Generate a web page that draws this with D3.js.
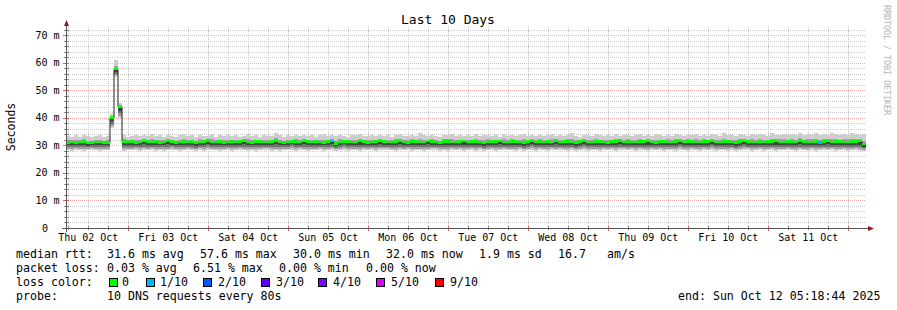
<!doctype html>
<meta charset="utf-8">
<title>Last 10 Days</title>
<script src="https://cdn.jsdelivr.net/npm/d3@7"></script>
<style>
body { margin:0; background:#fff; }
text { font-family:"DejaVu Sans Mono", monospace; fill:#000; }
</style>
<body>
<svg id="chart" width="897" height="310"></svg>
<script>

// time range of the graph (rrd end time, 10 days back), one step = 1.2 h
var startTime = new Date(Date.UTC(2025, 9, 2, 5, 18, 44));
var endTime   = new Date(Date.UTC(2025, 9, 12, 5, 18, 44));
var stepSec = 4320;

// median rtt per step (ms)
var medianRtt = [
  31.0,31.2,30.9,31.1,31.3,30.8,31.0,31.2,31.1,30.9, 31.0, 40.0,57.6,44.0, 31.4,31.1,31.3,31.0,31.2,31.5,
  31.3,31.1,31.4,31.0,31.2,31.5,31.3,30.9,31.2,31.4,31.1,31.3,31.0,31.2,31.4,31.6,31.2,31.1,31.3,31.0,
  31.2,31.4,31.1,31.3,31.5,31.2,31.0,31.3,31.4,31.1,31.2,31.3,31.5,31.2,31.0,31.1,31.4,31.3,31.2,31.5,
  31.3,31.1,31.4,31.2,31.0,31.3,31.5,30.6,31.2,31.4,31.3,31.1,31.2,31.5,31.3,31.0,31.2,31.4,31.6,31.3,
  31.2,31.1,31.3,31.5,31.2,31.0,31.4,31.3,31.1,31.2,31.5,31.3,31.2,31.0,31.3,31.4,31.2,31.1,31.3,31.5,
  31.2,31.4,31.3,31.1,30.8,31.2,31.4,31.3,31.5,31.2,31.1,31.3,31.4,31.2,31.0,31.3,31.5,31.2,31.4,31.1,
  31.3,31.2,31.5,31.1,31.3,31.4,31.2,31.0,31.3,31.5,31.2,31.1,31.4,31.3,31.2,31.0,31.3,31.4,31.6,31.2,
  31.3,31.1,31.2,31.4,31.3,31.5,31.2,31.0,31.3,31.4,31.2,31.1,31.3,31.5,31.2,31.4,31.3,31.1,31.2,31.4,
  31.3,31.5,31.2,31.1,31.4,31.3,31.2,31.0,31.3,31.5,31.4,31.2,31.1,31.3,31.2,31.4,31.3,31.5,31.2,31.1,
  31.3,31.4,31.2,31.5,31.3,31.1,31.2,31.4,31.0,31.3,31.5,31.2,31.4,31.3,31.1,31.2,31.4,31.3,31.5,30.4
];

// fastest ping per step (ms)
var pingLow = [
  28.3,28.1,28.4,28.2,28.0,28.3,28.5,28.2,28.1,28.3, 28.2, 36.5,55.0,40.0, 28.0,28.3,28.2,28.4,28.1,28.3,
  28.2,28.4,28.1,28.3,28.0,28.2,28.5,28.3,28.1,28.2,28.4,28.2,28.0,28.3,28.1,28.4,28.2,28.3,28.1,28.2,
  28.3,28.1,28.2,28.4,28.2,28.0,28.3,28.1,28.2,28.4,28.3,28.1,28.2,28.0,28.3,28.2,28.4,28.1,28.3,28.2,
  28.1,28.3,28.2,28.4,28.1,28.2,28.3,28.0,28.2,28.4,28.1,28.3,28.2,28.1,28.4,28.2,28.3,28.0,28.2,28.3,
  28.4,28.2,28.1,28.3,28.2,28.4,28.0,28.2,28.3,28.1,28.2,28.4,28.3,28.1,28.2,28.0,28.3,28.2,28.4,28.1,
  28.2,28.3,28.1,28.4,28.0,28.2,28.3,28.1,28.2,28.4,28.3,28.2,28.1,28.3,28.0,28.2,28.4,28.1,28.3,28.2,
  28.1,28.3,28.2,28.4,28.2,28.1,28.3,28.0,28.2,28.4,28.1,28.3,28.2,28.1,28.4,28.2,28.3,28.1,28.2,28.3,
  28.2,28.4,28.1,28.3,28.2,28.0,28.3,28.2,28.4,28.1,28.2,28.3,28.1,28.4,28.2,28.0,28.3,28.2,28.1,28.3,
  28.2,28.4,28.1,28.3,28.2,28.1,28.3,28.0,28.2,28.4,28.3,28.1,28.2,28.4,28.1,28.2,28.3,28.0,28.2,28.3,
  28.4,28.2,28.1,28.3,28.2,28.0,28.3,28.1,28.2,28.4,28.2,28.3,28.1,28.2,28.4,28.0,28.2,28.3,28.1,28.0
];

// slowest ping per step (ms)
var pingHigh = [
  33.4,33.1,33.6,33.2,33.8,33.3,33.0,33.5,33.9,33.2, 33.4, 41.5,61.0,45.5, 33.6,33.2,33.5,33.9,33.3,33.7,
  33.4,34.2,33.3,33.6,33.1,33.8,33.5,33.2,33.7,34.0,33.3,33.6,33.2,33.9,33.4,33.5,34.3,33.2,33.6,33.4,
  33.7,33.3,33.9,33.2,33.5,34.1,33.4,33.6,33.2,33.8,33.5,33.3,34.4,33.6,33.2,33.7,33.4,33.9,33.3,33.6,
  33.5,33.8,33.2,33.6,34.0,33.4,33.7,33.3,33.9,33.5,33.2,33.8,33.6,34.2,33.4,33.3,33.7,33.5,33.9,33.4,
  33.6,33.2,33.8,34.1,33.5,33.3,33.7,33.4,34.4,33.6,33.3,33.8,33.5,33.2,33.9,33.6,34.0,33.4,33.7,33.3,
  33.8,33.5,34.2,33.3,33.6,33.9,33.4,33.7,33.2,34.0,33.5,33.8,33.3,33.6,34.3,33.4,33.7,33.5,33.9,33.3,
  33.6,34.0,33.4,33.8,33.3,33.7,34.4,33.5,33.2,33.9,33.6,33.4,34.1,33.7,33.3,33.8,33.5,34.0,33.4,33.6,
  33.9,33.3,33.7,34.2,33.5,33.8,33.4,34.0,33.6,33.3,33.9,33.5,34.3,33.7,33.4,33.8,33.6,34.1,33.5,33.9,
  33.4,34.0,33.7,33.5,34.4,33.6,33.8,33.3,34.1,33.7,33.5,34.0,33.6,34.3,33.8,33.5,34.5,33.7,33.9,34.2,
  33.6,34.0,33.8,34.5,33.7,34.1,33.9,34.4,33.6,34.2,33.8,34.6,34.0,33.7,34.3,33.9,34.5,34.1,33.8,34.2
];

// steps with lost packets (index, lost of 10)
var lossSteps  = [66, 188];
var lossCounts = [1, 1];

var yTicks = [0, 10, 20, 30, 40, 50, 60, 70];

var lossLabels = ["0", "1/10", "2/10", "3/10", "4/10", "5/10", "9/10"];
var lossLevels = [0, 1, 2, 3, 4, 5, 9];
var lossColors = ["#00ff00", "#00b8ff", "#0059ff", "#5e00ff", "#7e00ff", "#dd00ff", "#ff0000"];

var rttStats  = ["31.6 ms avg", "57.6 ms max", "30.0 ms min", "32.0 ms now", "1.9 ms sd", "16.7", "am/s"];
var lossStats = ["0.03 % avg", "6.51 % max", "0.00 % min", "0.00 % now"];

var svg = d3.select("#chart");

var x = d3.scaleUtc().domain([startTime, endTime]).range([66, 866]);
var y = d3.scaleLinear().domain([0, 73]).range([228, 27]);

var plotTop = 27, plotBottom = 228, plotLeft = 66, plotRight = 866;

// ---- grid ----
var grid = svg.append("g");
var minorY = d3.range(2, 73, 2).filter(function(v) { return v % 10 != 0; });
var majorY = d3.range(10, 73, 10);

grid.selectAll("line.hmin").data(minorY).enter().append("line")
  .attr("x1", plotLeft).attr("x2", plotRight)
  .attr("y1", function(d) { return Math.round(y(d)) + 0.5; })
  .attr("y2", function(d) { return Math.round(y(d)) + 0.5; })
  .attr("stroke", "#cccccc").attr("stroke-dasharray", "1,1");

var hours6 = d3.utcHour.every(6).range(startTime, endTime).filter(function(d) { return d.getUTCHours() != 0; });
var days = d3.utcDay.range(startTime, endTime);

grid.selectAll("line.vmin").data(hours6).enter().append("line")
  .attr("y1", plotTop).attr("y2", plotBottom)
  .attr("x1", function(d) { return Math.round(x(d)) + 0.5; })
  .attr("x2", function(d) { return Math.round(x(d)) + 0.5; })
  .attr("stroke", "#cccccc").attr("stroke-dasharray", "1,1");

grid.selectAll("line.hmaj").data(majorY).enter().append("line")
  .attr("x1", plotLeft).attr("x2", plotRight)
  .attr("y1", function(d) { return Math.round(y(d)) + 0.5; })
  .attr("y2", function(d) { return Math.round(y(d)) + 0.5; })
  .attr("stroke", "#f5abab").attr("stroke-dasharray", "1,1");

grid.selectAll("line.vmaj").data(days).enter().append("line")
  .attr("y1", plotTop).attr("y2", plotBottom)
  .attr("x1", function(d) { return Math.round(x(d)) + 0.5; })
  .attr("x2", function(d) { return Math.round(x(d)) + 0.5; })
  .attr("stroke", "#f5abab").attr("stroke-dasharray", "1,1");

// ---- smoke ----
var steps = d3.range(medianRtt.length);
function stepStart(i) { return x(new Date(startTime.getTime() + i * stepSec * 1000)); }

// layers: [fraction below median, fraction above median, colour]
var smokeLayers = [
  [1.0, 1.0, "#cdcdcd"],
  [0.8, 0.35, "#a0a0a0"],
  [0.6, 0.15, "#727272"],
  [0.35, 0.0, "#444444"]
];

var smoke = svg.append("g");
smokeLayers.forEach(function(L) {
  smoke.append("g").selectAll("rect").data(steps).enter().append("rect")
    .attr("x", function(i) { return stepStart(i); })
    .attr("width", function(i) { return stepStart(i + 1) - stepStart(i); })
    .attr("y", function(i) { return y(medianRtt[i] + (pingHigh[i] - medianRtt[i]) * L[1]); })
    .attr("height", function(i) {
      var top = medianRtt[i] + (pingHigh[i] - medianRtt[i]) * L[1];
      var bot = medianRtt[i] - (medianRtt[i] - pingLow[i]) * L[0];
      return y(bot) - y(top);
    })
    .attr("fill", L[2])
    .attr("shape-rendering", "crispEdges");
});

// ---- median ----
var medPts = steps.map(function(i) { return [stepStart(i), y(medianRtt[i])]; });
medPts.push([stepStart(steps.length), y(medianRtt[steps.length - 1])]);
svg.append("path")
  .attr("d", d3.line().curve(d3.curveStepAfter)(medPts))
  .attr("fill", "none").attr("stroke", "#202020").attr("stroke-width", 1);

function lossColor(i) {
  var k = lossSteps.indexOf(i);
  var c = k < 0 ? 0 : lossCounts[k];
  var idx = lossLevels.indexOf(c);
  return lossColors[idx < 0 ? 0 : idx];
}

svg.append("g").selectAll("rect").data(steps).enter().append("rect")
  .attr("x", function(i) { return stepStart(i); })
  .attr("width", function(i) { return stepStart(i + 1) - stepStart(i); })
  .attr("y", function(i) { return y(medianRtt[i]) - 1.5; })
  .attr("height", 2.5)
  .attr("fill", lossColor)
  .attr("shape-rendering", "crispEdges");

// ---- axes ----
var ax = svg.append("g");
ax.selectAll("line.ytk").data(d3.range(0, 73, 2)).enter().append("line")
  .attr("x1", function(d) { return d % 10 == 0 ? 63 : 64; }).attr("x2", 69)
  .attr("y1", function(d) { return Math.round(y(d)) + 0.5; })
  .attr("y2", function(d) { return Math.round(y(d)) + 0.5; })
  .attr("stroke", function(d) { return d % 10 == 0 ? "#e06060" : "#888"; });

ax.selectAll("line.xtk").data(hours6.concat(days)).enter().append("line")
  .attr("y1", 226).attr("y2", function(d) { return d.getUTCHours() == 0 ? 231 : 230; })
  .attr("x1", function(d) { return Math.round(x(d)) + 0.5; })
  .attr("x2", function(d) { return Math.round(x(d)) + 0.5; })
  .attr("stroke", function(d) { return d.getUTCHours() == 0 ? "#e06060" : "#888"; });

ax.append("line").attr("x1", 66.5).attr("x2", 66.5).attr("y1", 232).attr("y2", 24)
  .attr("stroke", "#555");
ax.append("line").attr("x1", 62).attr("x2", 870).attr("y1", 228.5).attr("y2", 228.5)
  .attr("stroke", "#555");
ax.append("path").attr("d", "M64,26 L69,26 L66.5,20 Z").attr("fill", "#8b1a1a");
ax.append("path").attr("d", "M868,226 L868,231 L874,228.5 Z").attr("fill", "#8b1a1a");

svg.append("g").selectAll("text").data(yTicks).enter().append("text")
  .attr("x", function(d) { return d == 0 ? 48 : 59.5; })
  .attr("y", function(d) { return y(d) + 3.5; })
  .attr("text-anchor", "end")
  .style("font-size", "10px")
  .text(function(d) { return d == 0 ? "0" : d + " m"; });

var noons = days.map(function(d) { return d3.utcHour.offset(d, -12); });
svg.append("g").selectAll("text").data(noons).enter().append("text")
  .attr("x", function(d) { return x(d); })
  .attr("y", 241)
  .attr("text-anchor", "middle")
  .style("font-size", "10px")
  .text(d3.utcFormat("%a %d %b"));

// ---- titles ----
svg.append("text").attr("x", 448).attr("y", 24).attr("text-anchor", "middle")
  .style("font-size", "13px").text("Last 10 Days");
svg.append("text").attr("transform", "translate(15,127) rotate(-90)").attr("text-anchor", "middle")
  .style("font-size", "11.5px").text("Seconds");
svg.append("text").attr("transform", "translate(884,5) rotate(90)")
  .attr("textLength", 110).attr("lengthAdjust", "spacing")
  .style("font-size", "8.5px").style("fill", "#b4b4b4").text("RRDTOOL / TOBI OETIKER");

// ---- legend ----
var lg = svg.append("g").style("font-size", "11.6px");
function lt(xp, yp, s) { lg.append("text").attr("x", xp).attr("y", yp).text(s); }

lt(16, 258, "median rtt:");
[107, 200, 293, 386, 479, 558, 607].forEach(function(xp, i) { lt(xp, 258, rttStats[i]); });

lt(16, 272, "packet loss:");
[107, 193, 279, 366].forEach(function(xp, i) { lt(xp, 272, lossStats[i]); });

lt(16, 286, "loss color:");
var boxX = [109, 146, 203, 261, 318, 376, 435];
var labX = [122, 160, 218, 276, 333, 391, 450];
lg.selectAll("rect").data(lossColors).enter().append("rect")
  .attr("x", function(d, i) { return boxX[i] + 0.5; })
  .attr("y", 278.5).attr("width", 8).attr("height", 8)
  .attr("fill", function(d) { return d; }).attr("stroke", "#000");
lossLabels.forEach(function(s, i) { lt(labX[i], 286, s); });

lt(16, 300, "probe:");
lt(107, 300, "10 DNS requests every 80s");
lt(678, 300, "end: Sun Oct 12 05:18:44 2025");

</script>
